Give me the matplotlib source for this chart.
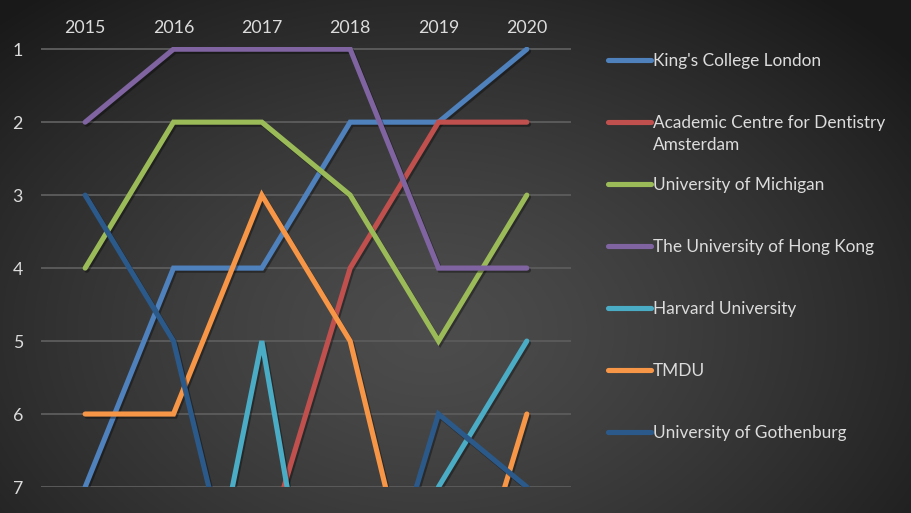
import textwrap
import numpy as np
import matplotlib
matplotlib.use("Agg")
import matplotlib.pyplot as plt
import matplotlib.patheffects as pe
from matplotlib.lines import Line2D

# ranking data (None = not shown / unknown)
years = [2015, 2016, 2017, 2018, 2019, 2020]
kcl = [7, 4, 4, 2, 2, 1]
acta = [None, None, 8, 4, 2, 2]
michigan = [4, 2, 2, 3, 5, 3]
hku = [2, 1, 1, 1, 4, 4]
harvard = [None, 11, 5, 12, 7, 5]
tmdu = [6, 6, 3, 5, 10, 6]
gothenburg = [3, 5, 10, 10, 6, 7]

names = ["King's College London", "Academic Centre for Dentistry Amsterdam",
         "University of Michigan", "The University of Hong Kong",
         "Harvard University", "TMDU", "University of Gothenburg"]
series = [kcl, acta, michigan, hku, harvard, tmdu, gothenburg]
colors = ["#4F81BD", "#C0504D", "#9BBB59", "#8064A2",
          "#4BACC6", "#F79646", "#2B5A8A"]

plt.rcParams["font.family"] = ["Lato", "DejaVu Sans"]
txt_col = "#dcdcdc"

W, H = 911, 513
fig = plt.figure(figsize=(W / 100, H / 100), dpi=100)

# dark radial gradient background
bg = fig.add_axes([0, 0, 1, 1], zorder=-10)
yy, xx = np.mgrid[0:H, 0:W]
r = np.sqrt(((xx - 430) / 620.0) ** 2 + ((yy - 330) / 430.0) ** 2)
r = np.clip(r, 0, 1)
shade = 0.30 - 0.20 * r ** 1.3
bg.imshow(np.dstack([shade] * 3), aspect="auto", extent=[0, 1, 0, 1])
bg.axis("off")

ax = fig.add_axes([41 / W, 26 / H, 530 / W, 440 / H])
ax.set_facecolor("none")

x = np.array(years, dtype=float)
for vals, col in zip(series, colors):
    y = np.array([np.nan if v is None else v for v in vals], dtype=float)
    ax.plot(x, y, color=col, lw=3.7, solid_capstyle="round",
            solid_joinstyle="miter",
            path_effects=[pe.SimpleLineShadow(offset=(1.2, -1.5), alpha=0.35,
                                              shadow_color="black"),
                          pe.Normal()])

ax.set_xlim(2014.5, 2020.5)
ax.set_ylim(7, 0.97)
ax.set_yticks(range(1, 8))
ax.set_xticks(years)
ax.xaxis.tick_top()
ax.tick_params(axis="both", length=0, labelsize=12.8, labelcolor=txt_col)
ax.tick_params(axis="x", pad=8)
ax.tick_params(axis="y", pad=13)
for s in ax.spines.values():
    s.set_visible(False)
ax.grid(axis="y", color="#5a5a5a", lw=1.4)
ax.set_axisbelow(True)

# legend drawn by hand so the marker lines up with the first text line
for i, (name, col) in enumerate(zip(names, colors)):
    yc = 1 - (60 + 62 * i) / H
    fig.add_artist(Line2D([608 / W, 651 / W], [yc, yc], color=col, lw=3.7,
                          solid_capstyle="round", transform=fig.transFigure))
    fig.text(653 / W, yc + 7 / H, textwrap.fill(name, 30), color=txt_col,
             fontsize=12.4, va="top", ha="left", linespacing=1.5,
             transform=fig.transFigure)

fig.savefig("out.png", dpi=100)
